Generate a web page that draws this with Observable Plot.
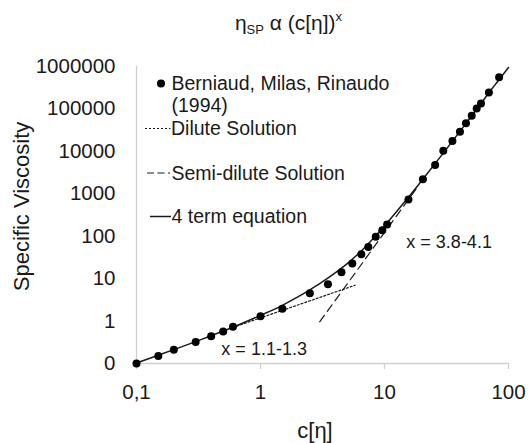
<!DOCTYPE html>
<html>
<head>
<meta charset="utf-8">
<script src="https://cdn.jsdelivr.net/npm/d3@7"></script>
<script src="https://cdn.jsdelivr.net/npm/@observablehq/plot@0.6"></script>
<style>
  html, body { margin: 0; padding: 0; background: #fff; }
  #chart { width: 529px; height: 443px; position: relative; overflow: hidden; }
</style>
</head>
<body>
<div id="chart"></div>
<script>
// ---- data ----
const dataX = [0.1, 0.15, 0.2, 0.3, 0.4, 0.5, 0.6, 1.0, 1.5, 2.5, 3.5, 4.5, 5.5, 6.5, 7.4, 8.5, 9.6, 10.5, 15.6, 20.4, 25.6, 29.8, 35.3, 40.6, 45.4, 50.5, 55.4, 60, 69.5, 84];
const dataY = [0.1, 0.15, 0.21, 0.32, 0.44, 0.57, 0.73, 1.3, 1.94, 4.5, 7.4, 14.2, 22.8, 37.8, 56, 97, 139, 190, 738, 2190, 4750, 10300, 17500, 29000, 45700, 69000, 103000, 135000, 245000, 556000];

const curveX = [0.1, 0.15, 0.2, 0.3, 0.4, 0.5, 0.7, 1, 1.5, 2, 2.5, 3, 4, 5, 6, 7, 8, 10, 15, 20, 30, 40, 50, 60, 70, 80, 100];
const curveY = [0.103, 0.157, 0.212, 0.328, 0.451, 0.582, 0.866, 1.36, 2.35, 3.7, 5.45, 7.6, 13.6, 22.5, 36, 56, 85, 175, 720, 2060, 9345, 28040, 66425, 135060, 246785, 410000, 950000];

const diluteX = [0.6, 5.8];
const diluteY = [0.71, 7.0];

const semiX = [3, 18];
const semiY = [0.96, 1300];

const xTicks = [0.1, 1, 10, 100];
const xTickLabels = ["0,1", "1", "10", "100"];
const yTicks = [0.1, 1, 10, 100, 1000, 10000, 100000, 1000000];
const yTickLabels = ["0", "1", "10", "100", "1000", "10000", "100000", "1000000"];

const annotText = ["x = 1.1-1.3", "x = 3.8-4.1"];
const annotX = [1.07, 33.2];
const annotY = [0.217, 74];

const legendLabels = ["Berniaud, Milas, Rinaudo", "(1994)", "Dilute Solution", "Semi-dilute Solution", "4 term equation"];
const titleMain = "η";
const titleSub = "SP";
const titleRest = " α (c[η])";
const titleSup = "x";
const xLabel = "c[η]";
const yLabel = "Specific Viscosity";

// ---- build tables ----
const points = dataX.map((x, i) => ({x, y: dataY[i]}));
const curve = curveX.map((x, i) => ({x, y: curveY[i]}));
const dilute = diluteX.map((x, i) => ({x, y: diluteY[i]}));
const semi = semiX.map((x, i) => ({x, y: semiY[i]}));
const annots = annotText.map((t, i) => ({t, x: annotX[i], y: annotY[i]}));

const gray = "#d0d0d0";
const ink = "#1a1a1a";
const font = "'Liberation Sans', Arial, Helvetica, sans-serif";

const chart = Plot.plot({
  width: 529,
  height: 443,
  marginLeft: 136,
  marginRight: 21,
  marginTop: 66,
  marginBottom: 80,
  x: {type: "log", domain: [0.1, 100]},
  y: {type: "log", domain: [0.1, 1e6]},
  style: {fontFamily: font, background: "white", color: ink},
  marks: [
    Plot.ruleY([0.1], {stroke: gray, strokeWidth: 1.3}),
    Plot.ruleX([0.1], {stroke: gray, strokeWidth: 1.3}),
    Plot.axisX({ticks: xTicks, tickFormat: d => xTickLabels[xTicks.indexOf(d)], tickSize: 6, tickPadding: 15, stroke: gray, strokeWidth: 1.3, fontSize: 20.5, label: null}),
    Plot.axisY({ticks: yTicks, tickFormat: d => yTickLabels[yTicks.indexOf(d)], tickSize: 0, tickPadding: 21, fontSize: 20.5, label: null}),
    Plot.line(dilute, {x: "x", y: "y", stroke: ink, strokeWidth: 1.2, strokeDasharray: "2,2"}),
    Plot.line(semi, {x: "x", y: "y", stroke: ink, strokeWidth: 1.2, strokeDasharray: "8,5"}),
    Plot.line(curve, {x: "x", y: "y", stroke: ink, strokeWidth: 1.5, curve: "monotone-x"}),
    Plot.dot(points, {x: "x", y: "y", r: 4, fill: "#000", stroke: "none"}),
    Plot.text(annots, {x: "x", y: "y", text: "t", fontSize: 18, fill: ink, textAnchor: "middle"})
  ]
});

document.getElementById("chart").appendChild(chart);

// ---- title, axis titles, legend ----
const svg = d3.select(chart);
const g = svg.append("g").attr("font-family", font).attr("fill", ink);

const title = g.append("text").attr("x", 288.5).attr("y", 30).attr("text-anchor", "middle").attr("font-size", 21);
title.append("tspan").text(titleMain);
title.append("tspan").attr("font-size", 13).attr("dy", 4).text(titleSub);
title.append("tspan").attr("dy", -4).text(titleRest);
title.append("tspan").attr("font-size", 13).attr("dy", -9).text(titleSup);

g.append("text").attr("transform", "translate(28.5,206.5) rotate(-90)")
  .attr("text-anchor", "middle").attr("font-size", 22).text(yLabel);

g.append("text").attr("x", 315).attr("y", 438).attr("text-anchor", "middle")
  .attr("font-size", 22).text(xLabel);

const lg = g.append("g").attr("font-size", 19.5).attr("text-anchor", "start");
lg.append("circle").attr("cx", 161).attr("cy", 83.5).attr("r", 4).attr("fill", "#000");
lg.append("text").attr("x", 171.5).attr("y", 83.5).attr("dy", "0.35em").text(legendLabels[0]);
lg.append("text").attr("x", 171.5).attr("y", 105.5).attr("dy", "0.35em").text(legendLabels[1]);
lg.append("line").attr("x1", 145).attr("x2", 170.5).attr("y1", 128.5).attr("y2", 128.5)
  .attr("stroke", ink).attr("stroke-width", 1.2).attr("stroke-dasharray", "2,2");
lg.append("text").attr("x", 171).attr("y", 128.5).attr("dy", "0.35em").text(legendLabels[2]);
lg.append("line").attr("x1", 147).attr("x2", 170).attr("y1", 173).attr("y2", 173)
  .attr("stroke", ink).attr("stroke-width", 1.2).attr("stroke-dasharray", "7,3.5");
lg.append("text").attr("x", 171.5).attr("y", 173).attr("dy", "0.35em").text(legendLabels[3]);
lg.append("line").attr("x1", 150).attr("x2", 171).attr("y1", 216.5).attr("y2", 216.5)
  .attr("stroke", ink).attr("stroke-width", 1.5);
lg.append("text").attr("x", 171.5).attr("y", 216.5).attr("dy", "0.35em").text(legendLabels[4]);
</script>
</body>
</html>
